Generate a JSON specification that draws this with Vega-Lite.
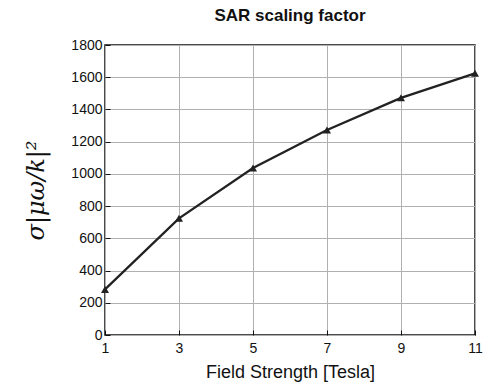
{
  "$schema": "https://vega.github.io/schema/vega-lite/v6.json",
  "autosize": "none",
  "width": 370,
  "height": 290,
  "padding": {"left": 105, "top": 45, "right": 10, "bottom": 54},
  "background": "white",
  "title": {
    "text": "SAR scaling factor",
    "font": "Liberation Sans",
    "fontSize": 17,
    "fontWeight": "bold",
    "color": "#111",
    "anchor": "middle",
    "offset": 13
  },
  "config": {
    "view": {"stroke": "#111", "strokeWidth": 1.5},
    "axis": {
      "labelFont": "Liberation Sans",
      "labelFontSize": 14,
      "labelColor": "#111",
      "labelOverlap": false,
      "labelFlush": false,
      "format": "d",
      "titleFont": "Liberation Sans",
      "titleColor": "#111",
      "gridColor": "#b0b0b0",
      "gridWidth": 1,
      "domain": false,
      "tickColor": "#111",
      "tickSize": -5,
      "tickWidth": 1
    }
  },
  "data": {
    "values": [
      {"B": 1, "S": 283},
      {"B": 3, "S": 724},
      {"B": 5, "S": 1037},
      {"B": 7, "S": 1272},
      {"B": 9, "S": 1472},
      {"B": 11, "S": 1624}
    ]
  },
  "encoding": {
    "x": {
      "field": "B", "type": "quantitative",
      "scale": {"domain": [1, 11], "nice": false, "zero": false},
      "axis": {"values": [1, 3, 5, 7, 9, 11], "title": "Field Strength [Tesla]", "titleFontSize": 18, "titleFontWeight": "normal", "labelPadding": 11, "titlePadding": 8}
    },
    "y": {
      "field": "S", "type": "quantitative",
      "scale": {"domain": [0, 1800], "nice": false},
      "axis": {"values": [0, 200, 400, 600, 800, 1000, 1200, 1400, 1600, 1800], "title": "σ|μω/k|²", "titleFont": "DejaVu Serif", "titleFontStyle": "italic", "titleFontSize": 24, "titleFontWeight": "normal", "labelPadding": 8, "titlePadding": 22}
    }
  },
  "layer": [
    {
      "mark": {"type": "line", "color": "#222", "strokeWidth": 2.3}
    },
    {
      "mark": {"type": "point", "shape": "triangle-up", "filled": true, "color": "#222", "size": 65, "opacity": 1}
    }
  ]
}
